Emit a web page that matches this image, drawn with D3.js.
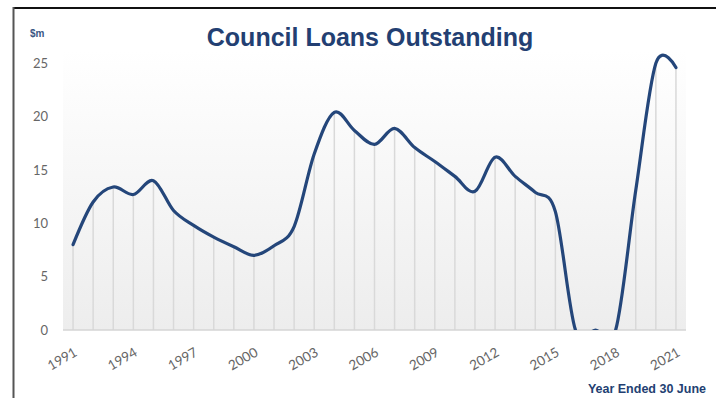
<!DOCTYPE html>
<html>
<head>
<meta charset="utf-8">
<script src="https://cdn.jsdelivr.net/npm/d3@7"></script>
<style>
  html, body { margin: 0; padding: 0; background: #fff; }
  svg { display: block; }
</style>
</head>
<body>
<svg id="chart" width="716" height="398"></svg>
<script>
// Council loans outstanding at 30 June, $m
const years = d3.range(1991, 2022);
const loans = [
  8.0, 12.0, 13.4, 12.7, 14.0, 11.2, 9.8, 8.7, 7.8, 7.0,
  7.9, 9.7, 16.5, 20.4, 18.7, 17.4, 18.9, 17.1, 15.8, 14.4,
  13.0, 16.2, 14.4, 12.9, 11.1, 0, 0, 0, 13.1, 25.0, 24.6
];
const yTicks = [0, 5, 10, 15, 20, 25];
const xTickYears = [1991, 1994, 1997, 2000, 2003, 2006, 2009, 2012, 2015, 2018, 2021];

const title = "Council Loans Outstanding";
const unitLabel = "$m";
const xTitle = "Year Ended 30 June";

const svg = d3.select("#chart");
const W = 716, H = 398;
const plot = { left: 63, right: 686, top: 40, bottom: 330 };

const x = d3.scaleBand().domain(years).range([plot.left, plot.right]).padding(0);
const cx = yr => x(yr) + x.bandwidth() / 2;
const y = d3.scaleLinear().domain([0, 25]).range([plot.bottom, 63.3]);

const navy = "#233f72";
const lineColor = "#24467a";

// frame
svg.append("line").attr("x1", 13).attr("x2", W).attr("y1", 8).attr("y2", 8)
  .attr("stroke", "#111").attr("stroke-width", 2);
svg.append("line").attr("x1", 13.5).attr("x2", 13.5).attr("y1", 7).attr("y2", H)
  .attr("stroke", "#555").attr("stroke-width", 2);

// plot area shading
const defs = svg.append("defs");
const grad = defs.append("linearGradient").attr("id", "bg").attr("x1", 0).attr("x2", 0).attr("y1", 0).attr("y2", 1);
grad.append("stop").attr("offset", "0%").attr("stop-color", "#ffffff");
grad.append("stop").attr("offset", "100%").attr("stop-color", "#ededed");
svg.append("rect")
  .attr("x", plot.left).attr("y", plot.top + 10)
  .attr("width", plot.right - plot.left).attr("height", plot.bottom - plot.top - 10)
  .attr("fill", "url(#bg)");

defs.append("clipPath").attr("id", "plotClip")
  .append("rect").attr("x", 0).attr("y", 0).attr("width", W).attr("height", plot.bottom);

// drop lines from each point to the baseline
svg.append("g").selectAll("line").data(years).join("line")
  .attr("x1", d => cx(d)).attr("x2", d => cx(d))
  .attr("y1", (d, i) => y(loans[i])).attr("y2", plot.bottom)
  .attr("stroke", "#d9d9d9").attr("stroke-width", 1.5);

// baseline
svg.append("line").attr("x1", plot.left).attr("x2", plot.right)
  .attr("y1", plot.bottom).attr("y2", plot.bottom)
  .attr("stroke", "#d4d4d4").attr("stroke-width", 1.5);

// y axis labels
const yAxis = d3.axisLeft(y).tickValues(yTicks).tickSize(0).tickPadding(0);
const gy = svg.append("g").attr("transform", "translate(48,0)").call(yAxis);
gy.select(".domain").remove();
gy.selectAll("text")
  .attr("font-family", "Lato, 'Open Sans', sans-serif")
  .attr("font-size", 13).attr("fill", "#666");

// x axis labels, rotated
const xAxis = d3.axisBottom(x).tickValues(xTickYears).tickSize(0).tickPadding(0);
const gx = svg.append("g").attr("transform", `translate(0,${plot.bottom})`).call(xAxis);
gx.select(".domain").remove();
gx.selectAll("text")
  .attr("font-family", "Lato, 'Open Sans', sans-serif")
  .attr("font-size", 13.5).attr("fill", "#666")
  .attr("text-anchor", "end")
  .attr("dy", null).attr("y", 0)
  .attr("transform", "translate(5,25) rotate(-30)");

// smoothed line
const line = d3.line()
  .x((d, i) => cx(years[i]))
  .y(d => y(d))
  .curve(d3.curveCardinal.tension(0));
svg.append("path")
  .datum(loans)
  .attr("clip-path", "url(#plotClip)")
  .attr("d", line)
  .attr("fill", "none")
  .attr("stroke", lineColor)
  .attr("stroke-width", 3.2)
  .attr("stroke-linejoin", "round")
  .attr("stroke-linecap", "round");

// titles
svg.append("text").attr("x", 370).attr("y", 46)
  .attr("text-anchor", "middle")
  .attr("font-family", "'Liberation Sans', Arial, sans-serif")
  .attr("font-weight", "bold").attr("font-size", 25)
  .attr("fill", navy).text(title);

svg.append("text").attr("x", 30).attr("y", 37)
  .attr("font-family", "'Liberation Sans', Arial, sans-serif")
  .attr("font-weight", "bold").attr("font-size", 10)
  .attr("fill", "#3a5683").text(unitLabel);

svg.append("text").attr("x", 706).attr("y", 393)
  .attr("text-anchor", "end")
  .attr("font-family", "'Liberation Sans', Arial, sans-serif")
  .attr("font-weight", "bold").attr("font-size", 12.5)
  .attr("fill", navy).text(xTitle);
</script>
</body>
</html>
